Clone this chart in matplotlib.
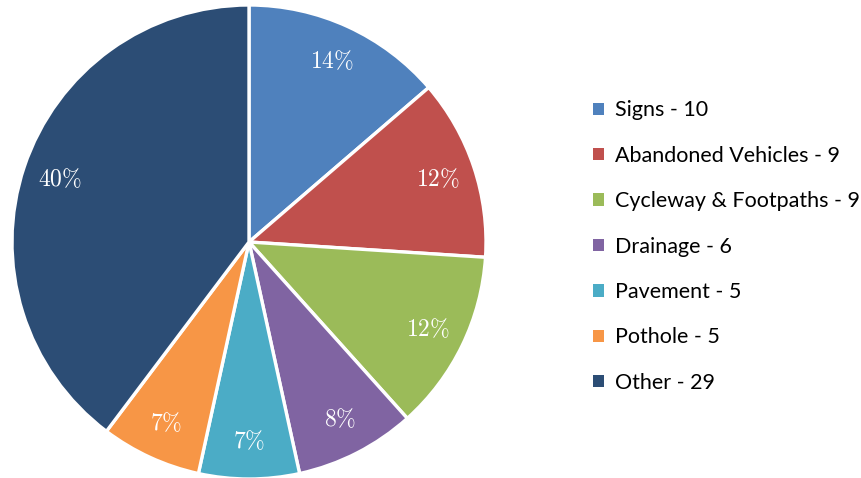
import matplotlib.pyplot as plt
from matplotlib.patches import Patch

plt.rcParams['mathtext.fontset'] = 'cm'

categories = ["Signs", "Abandoned Vehicles", "Cycleway & Footpaths", "Drainage",
              "Pavement", "Pothole", "Other"]
counts = [10, 9, 9, 6, 5, 5, 29]
colors = ["#4F81BD", "#C0504D", "#9BBB59", "#8064A2", "#4BACC6", "#F79646", "#2C4D75"]

fig = plt.figure(figsize=(8.61, 4.78), dpi=100)
ax = fig.add_axes([12 / 861, -1 / 478, 474 / 861, 474 / 478])

wedges, texts, autotexts = ax.pie(
    counts, colors=colors, startangle=90, counterclock=False,
    autopct=lambda p: r"$%d\%%$" % round(p), pctdistance=0.84,
    wedgeprops=dict(edgecolor="white", linewidth=2.4),
    textprops=dict(color="white", fontsize=17))
ax.set_xlim(-1, 1)
ax.set_ylim(-1, 1)
ax.set_aspect("equal")

# legend entries carry the raw counts
handles = [Patch(facecolor=c, edgecolor="none") for c in colors]
labels = [f"{name} - {n}" for name, n in zip(categories, counts)]
fig.legend(handles, labels, loc="center left", bbox_to_anchor=(593 / 861, 0.484),
           frameon=False, prop=dict(family="Lato", size=15.5),
           handlelength=0.5, handleheight=0.5, handletextpad=0.5,
           labelspacing=1.18, borderaxespad=0, borderpad=0)

fig.savefig("out.png", dpi=100)
